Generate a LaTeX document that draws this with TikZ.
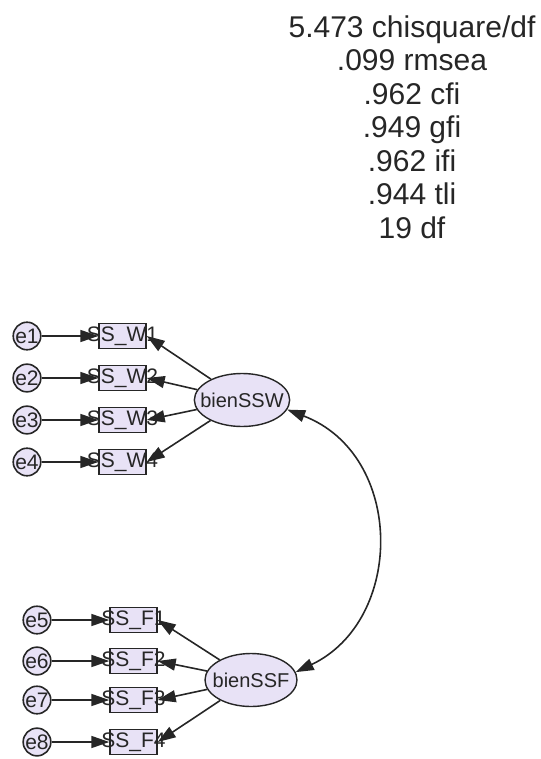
\documentclass[tikz,border=0pt]{standalone}
\usepackage{fontspec}
\setmainfont{Liberation Sans}
\usetikzlibrary{arrows.meta,shapes.geometric}
\definecolor{lav}{HTML}{E8E2F6}
\definecolor{ink}{HTML}{262626}
\begin{document}
\begin{tikzpicture}[x=1pt,y=-1pt,
  every node/.style={text=ink},
  err/.style={circle,draw=ink,line width=1.6pt,fill=lav,minimum size=25pt,inner sep=0pt,font=\fontsize{21}{21}\selectfont},
  obs/.style={rectangle,draw=ink,line width=1.4pt,fill=lav,minimum width=47pt,minimum height=25pt,inner sep=0pt,text width=47pt,align=center,font=\fontsize{21}{21}\selectfont},
  lat/.style={ellipse,draw=ink,line width=1.4pt,fill=lav,minimum width=92pt,minimum height=53pt,inner sep=-8pt,font=\fontsize{20}{20}\selectfont},
  path/.style={draw=ink,line width=1.6pt,-{Triangle[length=18pt,width=12pt]}},
  cov/.style={draw=ink,line width=1.6pt,{Triangle[length=18pt,width=12pt]}-{Triangle[length=18pt,width=12pt]}},
  fit/.style={font=\fontsize{30}{33.5}\selectfont,align=center}]
\useasboundingbox (0,0) rectangle (540,759);

% goodness-of-fit summary
\node[fit] (stats) at (412,127) {5.473 chisquare/df\\.099 rmsea\\.962 cfi\\.949 gfi\\.962 ifi\\.944 tli\\19 df};

% latent factors
\node[lat] (ssw) at (242,400) {bienSSW};
\node[lat] (ssf) at (251,680) {bienSSF};

% indicators of bienSSW
\foreach \i/\y in {1/336,2/378,3/420,4/462}{
  \node[err] (e\i) at (27,\y) {e\i};
  \node[obs] (w\i) at (122.5,\y) {\makebox[0pt]{SS\_W\i}};
  \draw[path] (e\i) -- (w\i.west);
  \draw[path] (ssw) -- (w\i.east);
}

% indicators of bienSSF
\foreach \i/\j/\y in {5/1/620,6/2/661,7/3/700,8/4/742}{
  \node[err] (e\i) at (37,\y) {e\i};
  \node[obs] (f\j) at (133.5,\y) {\makebox[0pt]{SS\_F\j}};
  \draw[path] (e\i) -- (f\j.west);
  \draw[path] (ssf) -- (f\j.east);
}

% factor covariance
\draw[cov] (ssw.-12) .. controls (405,455) and (405,620) .. (ssf.10);
\end{tikzpicture}
\end{document}
